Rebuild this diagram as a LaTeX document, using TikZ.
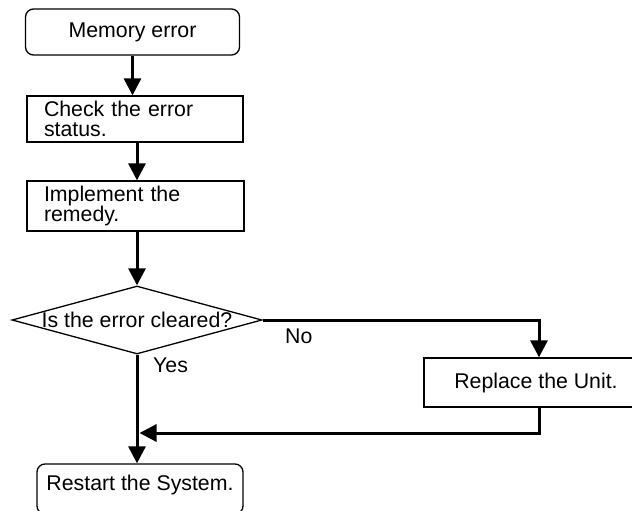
\documentclass[tikz,border=0pt]{standalone}
\usepackage{fontspec}
\setmainfont{Liberation Sans}
\usetikzlibrary{shapes.geometric,arrows.meta}
\begin{document}
\begin{tikzpicture}[x=1pt,y=-1pt,
  font=\fontsize{21.3}{19.5}\selectfont,
  box/.style={draw, line width=1.3pt, inner sep=0pt},
  rbox/.style={box, rounded corners=8pt},
  lbox/.style={box, align=left, text width=#1, inner xsep=17pt},
  dec/.style={draw, line width=1.3pt, diamond, inner sep=0pt, aspect=3.68,
    minimum width=250pt, minimum height=68pt},
  flow/.style={line width=3pt, -{Triangle[width=17pt,length=17pt]}},
  lbl/.style={anchor=base west, inner sep=0pt}]
\clip (0,0) rectangle (632,511);
\node[rbox, minimum width=214pt, minimum height=46pt] (mem) at (132.5,32) {Memory error};
\node[lbox=182pt, minimum height=46pt] (check) at (135,119) {Check the error\\status.};
\node[lbox=183pt, minimum height=50pt] (impl) at (135.5,206) {Implement the\\remedy.};
\node[dec] (dia) at (137,320) {Is the error cleared?};
\node[box, minimum width=224pt, minimum height=49pt] (repl) at (536,382.5) {Replace the Unit.};
\node[rbox, minimum width=206pt, minimum height=50pt, text depth=13pt] (rest) at (140,489) {Restart the System.};
\coordinate (j) at (139.5,433);
\draw[flow] (mem.south) -- (mem.south |- check.north);
\draw[flow] (check.south -| dia.north) -- (impl.north -| dia.north);
\draw[flow] (impl.south -| dia.north) -- (dia.north);
\draw[flow] (dia.south) -- (dia.south |- rest.north);
\draw[flow] (dia.east) -| ([xshift=3pt]repl.north);
\draw[flow] ([xshift=3pt]repl.south) |- (j);
\node[lbl] (yes) at (153,372) {Yes};
\node[lbl] (no) at (285,343) {No};
\end{tikzpicture}
\end{document}
